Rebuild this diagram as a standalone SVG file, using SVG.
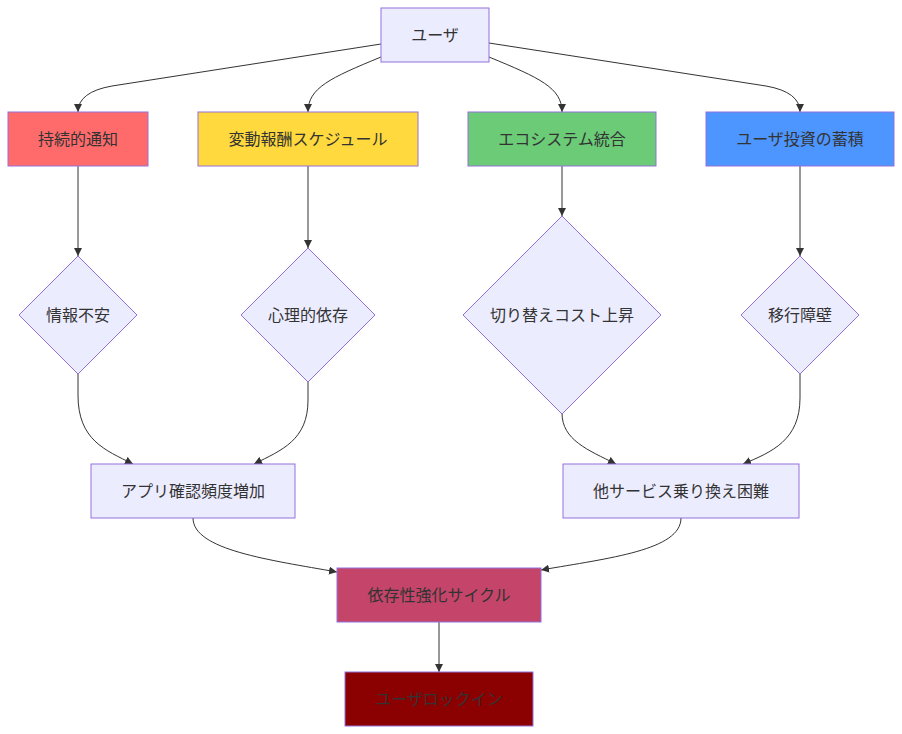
<svg xmlns="http://www.w3.org/2000/svg" width="902" height="734" viewBox="0 0 902 734">
<defs>
<style>
.n{fill:#ECECFF;stroke:#9370DB;stroke-width:1px}
.t{font-family:"Liberation Sans","Noto Sans CJK JP",sans-serif;font-size:16px;fill:#333;text-anchor:middle;dominant-baseline:central}
.e{fill:none;stroke:#333;stroke-width:1px;marker-end:url(#arr)}
</style>
<marker id="arr" viewBox="0 0 10 10" refX="10" refY="5" markerWidth="8" markerHeight="8" markerUnits="userSpaceOnUse" orient="auto">
<path d="M0,0 L10,5 L0,10 z" fill="#333"/>
</marker>
</defs>
<rect width="902" height="734" fill="#fff"/>
<g id="edges">
<path class="e" d="M381,44 L112,86 Q78,92 78,112"/>
<path class="e" d="M381,57 C330,78 308,88 308,112"/>
<path class="e" d="M489,57 C540,78 562,88 562,112"/>
<path class="e" d="M489,43 L766,86 Q800,92 800,112"/>
<path class="e" d="M78,166 L78,256"/>
<path class="e" d="M308,166 L308,248"/>
<path class="e" d="M562,166 L562,216"/>
<path class="e" d="M800,166 L800,256"/>
<path class="e" d="M78,374 L78,395 C78,440 105,450 133,464"/>
<path class="e" d="M308,382 L308,400 C308,440 282,450 254,464"/>
<path class="e" d="M562,413 C562,440 588,450 616,464"/>
<path class="e" d="M800,374 L800,398 C800,440 772,452 743,464"/>
<path class="e" d="M193,518 C193,550 270,560 337,572"/>
<path class="e" d="M681,518 C681,550 610,558 541,570"/>
<path class="e" d="M439,622 L439,672"/>
</g>
<g id="user"><rect class="n" x="381" y="8" width="108" height="54"/><text class="t" x="435" y="35">ユーザ</text></g>
<g id="notify"><rect class="n" x="8" y="112" width="140" height="54" style="fill:#ff6b6b"/><text class="t" x="78" y="139">持続的通知</text></g>
<g id="reward"><rect class="n" x="198" y="112" width="220" height="54" style="fill:#ffd93d"/><text class="t" x="308" y="139">変動報酬スケジュール</text></g>
<g id="eco"><rect class="n" x="468" y="112" width="188" height="54" style="fill:#6bcb77"/><text class="t" x="562" y="139">エコシステム統合</text></g>
<g id="invest"><rect class="n" x="706" y="112" width="188" height="54" style="fill:#4d96ff"/><text class="t" x="800" y="139">ユーザ投資の蓄積</text></g>
<g id="anxiety"><polygon class="n" points="78,256 137,315 78,374 19,315"/><text class="t" x="78" y="315">情報不安</text></g>
<g id="psych"><polygon class="n" points="308,248 375,315 308,382 241,315"/><text class="t" x="308" y="315">心理的依存</text></g>
<g id="cost"><polygon class="n" points="562,216 661,315 562,414 463,315"/><text class="t" x="562" y="315">切り替えコスト上昇</text></g>
<g id="barrier"><polygon class="n" points="800,256 859,315 800,374 741,315"/><text class="t" x="800" y="315">移行障壁</text></g>
<g id="freq"><rect class="n" x="91" y="464" width="204" height="54"/><text class="t" x="193" y="491">アプリ確認頻度増加</text></g>
<g id="switch"><rect class="n" x="563" y="464" width="236" height="54"/><text class="t" x="681" y="491">他サービス乗り換え困難</text></g>
<g id="cycle"><rect class="n" x="337" y="568" width="204" height="54" style="fill:#c44569"/><text class="t" x="439" y="595">依存性強化サイクル</text></g>
<g id="lockin"><rect class="n" x="345" y="672" width="188" height="54" style="fill:#8b0000"/><text class="t" x="439" y="699">ユーザロックイン</text></g>
</svg>
